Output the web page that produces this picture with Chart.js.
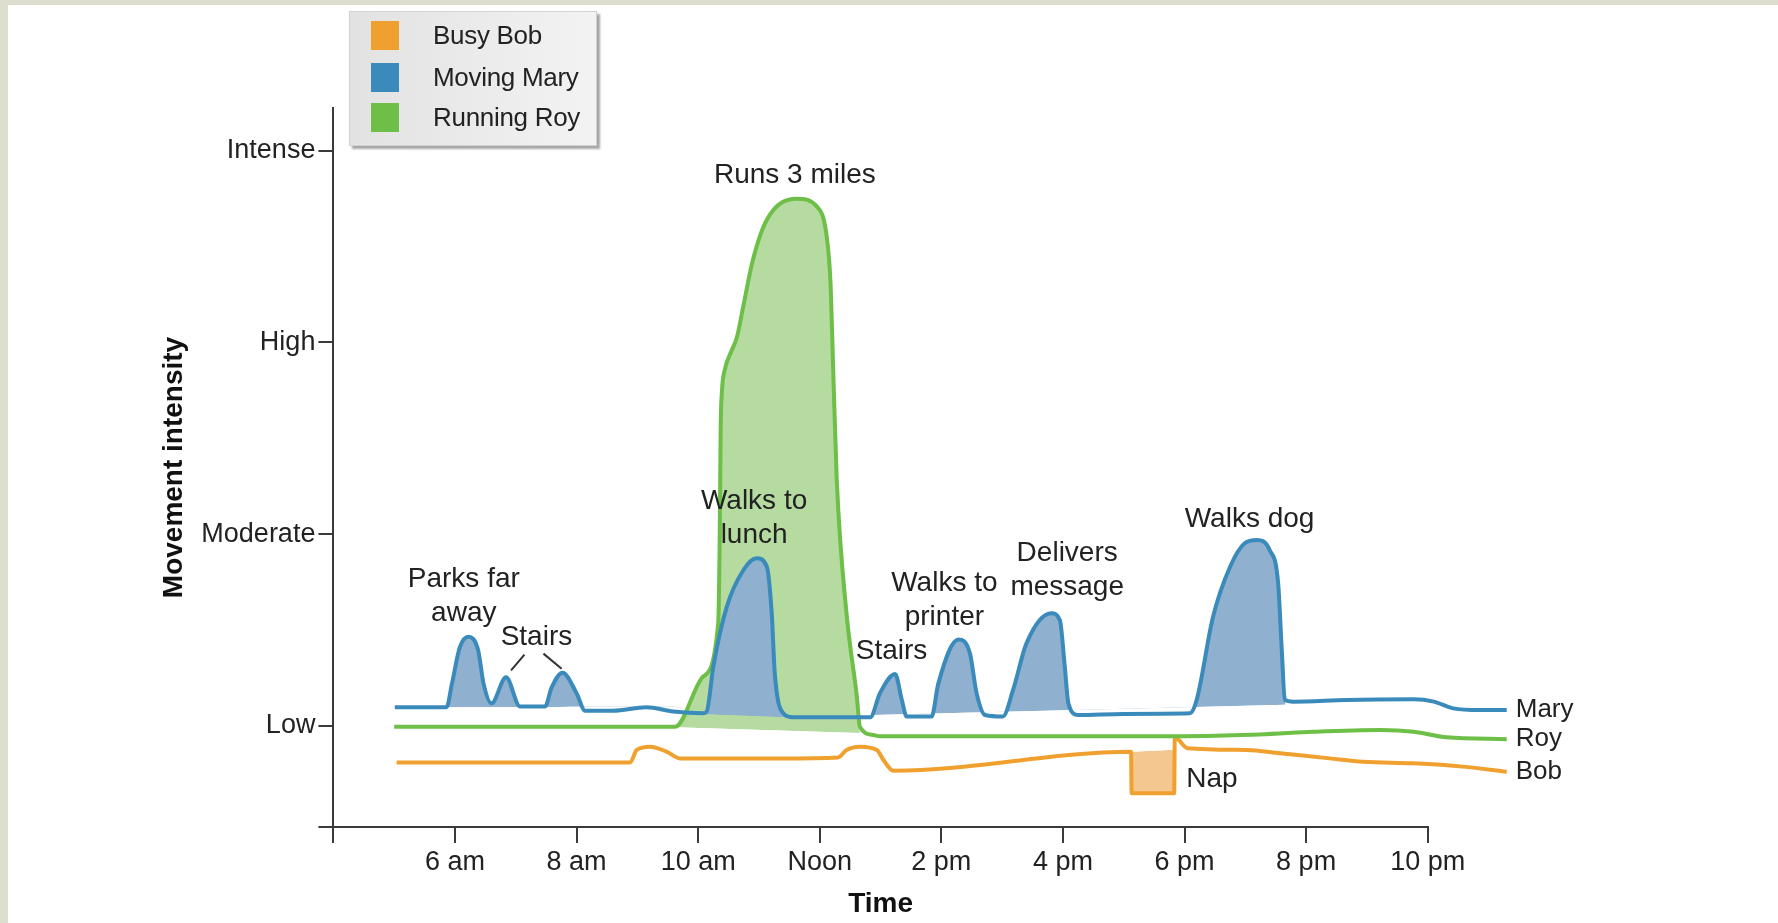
<!DOCTYPE html>
<html>
<head>
<meta charset="utf-8">
<script src="https://cdn.jsdelivr.net/npm/chart.js@4.4.1/dist/chart.umd.min.js"></script>
<style>
    html, body { margin: 0; padding: 0; }
    body { width: 1778px; height: 923px; background: #dedecf; position: relative; overflow: hidden; font-family: "Liberation Sans", Arial, sans-serif; }
    #panel { position: absolute; left: 8px; top: 5px; right: 0; bottom: 0; background: #ffffff; }
    #wrap { position: absolute; left: 0; top: 0; width: 1778px; height: 923px; }
    #legend {
        position: absolute; left: 349px; top: 11px; width: 246px; height: 133px;
        background: linear-gradient(to right, #e2e2e2, #f3f3f3);
        border: 1px solid #d2d2d2;
        box-shadow: 3px 3px 2px rgba(0, 0, 0, 0.35);
    }
    .item { position: absolute; left: 21px; height: 29px; display: flex; align-items: center; }
    .swatch { width: 28px; height: 29px; margin-right: 34px; }
    .item span { font-size: 26px; color: #222; letter-spacing: -0.3px; }
</style>
</head>
<body>
<div id="panel"></div>
<div id="wrap"><canvas id="activity-chart"></canvas></div>
<div id="legend"></div>

<script>
// ------------------------------------------------------
// DATA (hours of the day, movement level 1 = Low ... 4 = Intense)
// ------------------------------------------------------
const maryHours = [5.01, 5.86, 5.95, 6.08, 6.22, 6.38, 6.47, 6.60, 6.84, 7.07, 7.48, 7.59, 7.77, 8.0, 8.14,
    8.6, 9.15, 9.59, 10.08, 10.14, 10.25, 10.47, 10.74, 10.96, 11.13, 11.21, 11.26, 11.40, 11.56, 12.83,
    12.99, 13.24, 13.35, 13.43, 13.84, 13.95, 14.28, 14.47, 14.58, 14.72, 15.01, 15.18, 15.40, 15.81, 15.95,
    16.03, 16.09, 16.25, 17.0, 18.09, 18.20, 18.47, 18.75, 18.99, 19.19, 19.40, 19.54, 19.60, 19.65, 19.79,
    20.67, 21.77, 22.1, 22.42, 22.86, 23.30];
const maryLevels = [1.097, 1.097, 1.22, 1.41, 1.465, 1.395, 1.22, 1.117, 1.253, 1.10, 1.10, 1.20, 1.277, 1.17, 1.079,
    1.079, 1.097, 1.074, 1.065, 1.074, 1.31, 1.62, 1.81, 1.874, 1.83, 1.587, 1.274, 1.065, 1.044, 1.044,
    1.17, 1.27, 1.135, 1.048, 1.048, 1.22, 1.45, 1.378, 1.17, 1.056, 1.048, 1.187, 1.43, 1.587, 1.55,
    1.31, 1.117, 1.056, 1.062, 1.065, 1.135, 1.57, 1.83, 1.952, 1.969, 1.917, 1.743, 1.395, 1.135, 1.126,
    1.135, 1.138, 1.126, 1.091, 1.082, 1.082];

const royHours = [5.0, 9.62, 10.08, 10.33, 10.355, 10.37, 10.39, 10.44, 10.54, 10.64, 10.74, 10.90, 11.13, 11.62,
    11.95, 12.12, 12.18, 12.22, 12.28, 12.44, 12.61, 12.66, 12.88, 12.99, 17.6, 19.24, 20.12, 21.22, 21.77, 22.31, 23.30];
const royLevels = [0.995, 0.995, 1.256, 1.535, 2.0, 2.55, 2.74, 2.86, 2.95, 3.03, 3.185, 3.43, 3.64, 3.75,
    3.71, 3.54, 3.29, 2.87, 2.28, 1.587, 1.152, 0.995, 0.952, 0.945, 0.945, 0.955, 0.969, 0.978, 0.969, 0.94, 0.93];

const bobHours = [5.04, 8.88, 8.99, 9.21, 9.48, 9.70, 11.35, 12.3, 12.44, 12.66, 12.94, 13.05, 13.21, 17.12, 17.13,
    17.83, 17.84, 18.05, 19.02, 19.57, 20.39, 20.94, 21.76, 22.58, 23.30];
const bobLevels = [0.808, 0.808, 0.874, 0.891, 0.865, 0.83, 0.83, 0.835, 0.874, 0.891, 0.874, 0.82, 0.766, 0.865, 0.648,
    0.648, 0.94, 0.883, 0.874, 0.857, 0.83, 0.813, 0.804, 0.787, 0.76];

// lower edges of the shaded areas
const maryBaseHours = [5.01, 7.5, 8.1, 9.6, 10.1, 11.4, 19.66];
const maryBaseLevels = [1.097, 1.097, 1.10, 1.10, 1.06, 1.045, 1.11];
const royBaseHours = [9.62, 12.66];
const royBaseLevels = [0.993, 0.962];
const napTopHours = [17.125, 17.835];
const napTopLevels = [0.865, 0.875];

const seriesNames = ["Busy Bob", "Moving Mary", "Running Roy"];
const endNames = ["Bob", "Mary", "Roy"];

const xMin = 4, xMax = 22;
const xTickValues = [4, 6, 8, 10, 12, 14, 16, 18, 20, 22];
const xTickLabels = ["", "6 am", "8 am", "10 am", "Noon", "2 pm", "4 pm", "6 pm", "8 pm", "10 pm"];
const yMin = 0.472, yMax = 4.223;
const yTickValues = [0.472, 1, 2, 3, 4];
const yTickLabels = ["", "Low", "Moderate", "High", "Intense"];

const noteTexts = [["Runs 3 miles"], ["Walks to", "lunch"], ["Parks far", "away"], ["Stairs"], ["Stairs"],
    ["Walks to", "printer"], ["Delivers", "message"], ["Walks dog"], ["Nap"]];
const noteHours = [11.59, 10.92, 6.145, 7.34, 13.18, 14.05, 16.07, 19.07, 18.45];
const noteLevels = [3.87, 2.17, 1.763, 1.46, 1.39, 1.745, 1.90, 2.077, 0.72];
const stairsPeakIdx = [8, 12];   // Mary points the first "Stairs" label points to

// ------------------------------------------------------
// COLOURS
// ------------------------------------------------------
const bobColor = "#f0a02e";
const maryColor = "#3a8abb";
const royColor = "#6dbf47";
const maryFill = "#8fb0ce";
const royFill = "#b5dba0";
const napFill = "#f4c690";
const textColor = "#222222";
const axisColor = "#3a3a3a";

const toPoints = (xs, ys) => xs.map((x, i) => ({ x, y: ys[i] }));

// ------------------------------------------------------
// LEGEND (html box like the original)
// ------------------------------------------------------
function buildLegend() {
    const box = document.getElementById("legend");
    const colors = [bobColor, maryColor, royColor];
    const tops = [9, 51, 91];
    seriesNames.forEach((name, i) => {
        box.innerHTML += `<div class="item" style="top:${tops[i]}px">
            <div class="swatch" style="background:${colors[i]}"></div><span>${name}</span></div>`;
    });
}

// ------------------------------------------------------
// TEXT NOTES + LINE END NAMES
// ------------------------------------------------------
const notesPlugin = {
    id: "notes",
    afterDatasetsDraw(chart) {
        const { ctx, scales: { x, y } } = chart;
        ctx.save();
        ctx.fillStyle = textColor;
        ctx.textAlign = "center";
        ctx.textBaseline = "middle";
        ctx.font = '28px "Liberation Sans", Arial, sans-serif';

        noteTexts.forEach((lines, i) => {
            const px = x.getPixelForValue(noteHours[i]);
            const py = y.getPixelForValue(noteLevels[i]);
            lines.forEach((t, k) => ctx.fillText(t, px, py + k * 34));
        });

        // leader lines for the first "Stairs"
        const mary = chart.getDatasetMeta(0).data;
        const lx = x.getPixelForValue(noteHours[3]);
        const ly = y.getPixelForValue(noteLevels[3]);
        ctx.strokeStyle = "#333";
        ctx.lineWidth = 2;
        const p1 = mary[stairsPeakIdx[0]], p2 = mary[stairsPeakIdx[1]];
        ctx.beginPath();
        ctx.moveTo(lx - 12, ly + 17);
        ctx.lineTo(p1.x + 5, p1.y - 7);
        ctx.moveTo(lx + 7, ly + 16);
        ctx.lineTo(p2.x - 1, p2.y - 4);
        ctx.stroke();

        // names at the right end of each line
        ctx.textAlign = "left";
        ctx.font = '26px "Liberation Sans", Arial, sans-serif';
        [2, 0, 1].forEach((dsIndex, k) => {
            const pts = chart.getDatasetMeta(dsIndex).data;
            const last = pts[pts.length - 1];
            ctx.fillText(endNames[k], last.x + 9, last.y);
        });
        ctx.restore();
    }
};

// ------------------------------------------------------
// CHART
// ------------------------------------------------------
document.addEventListener("DOMContentLoaded", () => {
    buildLegend();

    Chart.defaults.font.family = '"Liberation Sans", Arial, sans-serif';
    Chart.defaults.color = textColor;

    const ctx = document.getElementById("activity-chart").getContext("2d");
    new Chart(ctx, {
        type: "line",
        data: {
            datasets: [
                {   // 0 Mary
                    label: seriesNames[1],
                    data: toPoints(maryHours, maryLevels),
                    borderColor: maryColor,
                    borderWidth: 4,
                    fill: { target: 3, above: maryFill, below: "rgba(0,0,0,0)" },
                    cubicInterpolationMode: "monotone",
                    clip: false
                },
                {   // 1 Roy
                    label: seriesNames[2],
                    data: toPoints(royHours, royLevels),
                    borderColor: royColor,
                    borderWidth: 4,
                    fill: { target: 4, above: royFill, below: "rgba(0,0,0,0)" },
                    cubicInterpolationMode: "monotone",
                    clip: false
                },
                {   // 2 Bob
                    label: seriesNames[0],
                    data: toPoints(bobHours, bobLevels),
                    borderColor: bobColor,
                    borderWidth: 4,
                    fill: { target: 5, above: "rgba(0,0,0,0)", below: napFill },
                    cubicInterpolationMode: "monotone",
                    clip: false
                },
                { label: "maryBase", data: toPoints(maryBaseHours, maryBaseLevels), borderWidth: 0, borderColor: "rgba(0,0,0,0)", fill: false },
                { label: "royBase", data: toPoints(royBaseHours, royBaseLevels), borderWidth: 0, borderColor: "rgba(0,0,0,0)", fill: false },
                { label: "napTop", data: toPoints(napTopHours, napTopLevels), borderWidth: 0, borderColor: "rgba(0,0,0,0)", fill: false }
            ]
        },
        options: {
            responsive: true,
            maintainAspectRatio: false,
            animation: false,
            events: [],
            elements: { point: { radius: 0 } },
            layout: { padding: { left: 140, top: 108, right: 350.3, bottom: 0 } },
            plugins: {
                legend: { display: false },
                tooltip: { enabled: false }
            },
            scales: {
                x: {
                    type: "linear",
                    bounds: "data",
                    afterDataLimits: (scale) => { scale.min = xMin; scale.max = xMax; },
                    afterBuildTicks: (scale) => { scale.ticks = xTickValues.map(v => ({ value: v })); },
                    afterFit: (scale) => { scale.height = 96; },
                    ticks: {
                        autoSkip: false,
                        maxRotation: 0,
                        padding: 3,
                        color: textColor,
                        font: { size: 27 },
                        callback: (v) => xTickLabels[xTickValues.indexOf(v)] ?? ""
                    },
                    grid: { drawOnChartArea: false, drawTicks: true, tickLength: 16, color: axisColor, lineWidth: 2 },
                    border: { display: true, color: axisColor, width: 2 },
                    title: {
                        display: true,
                        text: "Time",
                        color: "#111",
                        font: { size: 28, weight: "bold" },
                        padding: { top: 0, bottom: 2 }
                    }
                },
                y: {
                    type: "linear",
                    min: yMin,
                    max: yMax,
                    afterBuildTicks: (scale) => { scale.ticks = yTickValues.map(v => ({ value: v })); },
                    afterFit: (scale) => { scale.width = 193.4; },
                    ticks: {
                        autoSkip: false,
                        padding: 3,
                        color: textColor,
                        font: { size: 27 },
                        callback: (v) => yTickLabels[yTickValues.indexOf(v)] ?? ""
                    },
                    grid: { drawOnChartArea: false, drawTicks: true, tickLength: 15, color: axisColor, lineWidth: 2 },
                    border: { display: true, color: axisColor, width: 2 },
                    title: {
                        display: true,
                        text: "Movement intensity",
                        color: "#111",
                        font: { size: 28, weight: "bold" },
                        padding: { top: 17, bottom: 0 }
                    }
                }
            }
        },
        plugins: [notesPlugin]
    });
});
</script>
</body>
</html>
